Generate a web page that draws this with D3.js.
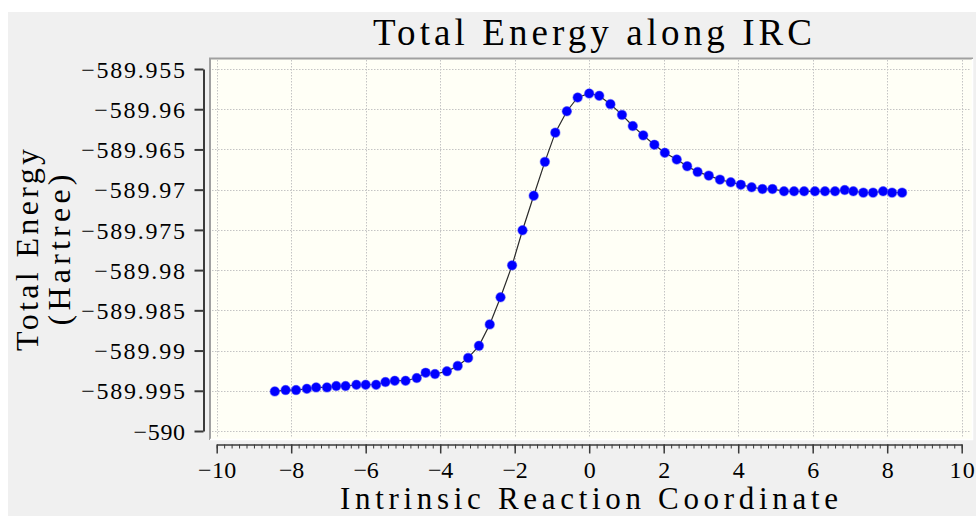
<!DOCTYPE html>
<html>
<head>
<meta charset="utf-8">
<script src="https://cdn.jsdelivr.net/npm/d3@7"></script>
<style>
  html, body { margin: 0; padding: 0; background: #ffffff; }
  svg { display: block; }
  text { font-family: "Liberation Serif", "DejaVu Serif", serif; fill: #000; }
</style>
</head>
<body>
<svg id="chart" width="976" height="516"></svg>
<script>
// IRC path: reaction coordinate and total energy (Hartree) at each point
const ircCoord = [
  -8.44, -8.15, -7.87, -7.58, -7.33, -7.04, -6.79, -6.54, -6.25, -6.00,
  -5.72, -5.47, -5.22, -4.93, -4.63, -4.39, -4.14, -3.82, -3.53, -3.25,
  -2.96, -2.67, -2.38, -2.07, -1.79, -1.49, -1.19, -0.91, -0.60, -0.31,
   0.00,  0.27,  0.57,  0.88,  1.17,  1.45,  1.75,  2.03,  2.35,  2.63,
   2.91,  3.21,  3.51,  3.80,  4.07,  4.36,  4.65,  4.92,  5.23,  5.50,
   5.77,  6.06,  6.33,  6.60,  6.86,  7.09,  7.36,  7.62,  7.89,  8.13,
   8.40
];
const totalEnergy = [
  -589.99508, -589.99491, -589.99491, -589.99475, -589.99458, -589.99458, -589.99441, -589.99441, -589.99425, -589.99425,
  -589.99425, -589.99391, -589.99375, -589.99375, -589.99341, -589.99275, -589.99291, -589.99258, -589.99191, -589.99091,
  -589.98941, -589.98675, -589.98338, -589.97941, -589.97504, -589.97075, -589.96654, -589.96291, -589.96025, -589.95854,
  -589.95804, -589.95833, -589.95937, -589.96070, -589.96208, -589.96325, -589.96441, -589.96541, -589.96625, -589.96708,
  -589.96779, -589.96825, -589.96875, -589.96908, -589.96938, -589.96970, -589.96991, -589.96991, -589.97020, -589.97020,
  -589.97020, -589.97020, -589.97020, -589.97020, -589.97004, -589.97020, -589.97037, -589.97037, -589.97020, -589.97037,
  -589.97037
];

// Axis ticks and their labels
const xTicks = [-10, -8, -6, -4, -2, 0, 2, 4, 6, 8, 10];
const xTickLabels = ["\u221210", "\u22128", "\u22126", "\u22124", "\u22122", "0", "2", "4", "6", "8", "10"];
const yTicks = [-589.955, -589.96, -589.965, -589.97, -589.975, -589.98, -589.985, -589.99, -589.995, -590];
const yTickLabels = ["\u2212589.955", "\u2212589.96", "\u2212589.965", "\u2212589.97", "\u2212589.975",
                     "\u2212589.98", "\u2212589.985", "\u2212589.99", "\u2212589.995", "\u2212590"];

const chartTitle = "Total Energy along IRC";
const xTitle = "Intrinsic Reaction Coordinate";
const yTitleLines = ["Total Energy", "(Hartree)"];

const points = ircCoord.map((c, i) => ({ x: c, y: totalEnergy[i] }));

const svg = d3.select("#chart");

// Outer panel
svg.append("rect").attr("x", 8).attr("y", 12).attr("width", 968).attr("height", 504).attr("fill", "#f0f0f0");

// Plot frame
const frame = { left: 210, top: 58, right: 973, bottom: 440 };
svg.append("rect")
  .attr("x", frame.left).attr("y", frame.top)
  .attr("width", frame.right - frame.left).attr("height", frame.bottom - frame.top)
  .attr("fill", "#fffff6");

const x = d3.scaleLinear().domain([-10, 10]).range([216.7, 961.7]);
const y = d3.scaleLinear().domain([-590, -589.955]).range([431, 69]);

// Dotted grid
const grid = svg.append("g").attr("stroke", "#c4c4c4").attr("stroke-width", 1).attr("stroke-dasharray", "1.5,1.5");
grid.selectAll("line.h").data(yTicks).join("line").attr("class", "h")
  .attr("x1", frame.left + 2).attr("x2", frame.right - 2)
  .attr("y1", d => Math.round(y(d)) + 0.5).attr("y2", d => Math.round(y(d)) + 0.5);
grid.selectAll("line.v").data(xTicks).join("line").attr("class", "v")
  .attr("y1", frame.top + 2).attr("y2", frame.bottom - 2)
  .attr("x1", d => Math.round(x(d)) + 0.5).attr("x2", d => Math.round(x(d)) + 0.5);

// Sunken border: dark top/left, light bottom/right
svg.append("line").attr("x1", frame.left - 1).attr("x2", frame.right).attr("y1", frame.top + 0.5).attr("y2", frame.top + 0.5)
  .attr("stroke", "#a0a0a0").attr("stroke-width", 2);
svg.append("line").attr("x1", frame.left).attr("x2", frame.left).attr("y1", frame.top).attr("y2", frame.bottom)
  .attr("stroke", "#a0a0a0").attr("stroke-width", 2);
svg.append("line").attr("x1", frame.left).attr("x2", frame.right).attr("y1", frame.bottom - 0.5).attr("y2", frame.bottom - 0.5)
  .attr("stroke", "#ffffff").attr("stroke-width", 1.5);
svg.append("line").attr("x1", frame.right - 0.5).attr("x2", frame.right - 0.5).attr("y1", frame.top + 1).attr("y2", frame.bottom)
  .attr("stroke", "#ffffff").attr("stroke-width", 1.5);

// Curve and markers
const line = d3.line().x(d => x(d.x)).y(d => y(d.y));
svg.append("path").datum(points).attr("d", line)
  .attr("fill", "none").attr("stroke", "#2a2a2a").attr("stroke-width", 1.2);
svg.append("g").selectAll("circle").data(points).join("circle")
  .attr("cx", d => x(d.x)).attr("cy", d => y(d.y)).attr("r", 4.7)
  .attr("fill", "#0000ff").attr("stroke", "rgba(60,60,255,0.45)").attr("stroke-width", 1.2);

const tickFontSize = 24;
const cell = 13.1;

// Y axis
const yAxis = svg.append("g").attr("transform", "translate(203.5,0)")
  .call(d3.axisLeft(y).tickValues(yTicks).tickSize(9).tickSizeOuter(0)
    .tickFormat((d, i) => yTickLabels[i]));
yAxis.select(".domain").attr("stroke", "#3a3a3a").attr("stroke-width", 2);
yAxis.selectAll(".tick line").attr("stroke", "#3a3a3a").attr("stroke-width", 2);
yAxis.selectAll(".tick text")
  .attr("x", -18.5).attr("dy", "0.34em")
  .attr("font-size", tickFontSize).attr("font-family", null)
  .attr("textLength", d => yTickLabels[yTicks.indexOf(d)].length * cell - 1)
  .attr("lengthAdjust", "spacing");

// X axis: minor ticks then major ticks with labels
const xAxisY = 444.5;
const xMinor = svg.append("g").attr("transform", `translate(0,${xAxisY})`)
  .call(d3.axisBottom(x).tickValues(x.ticks(100)).tickSize(4).tickSizeOuter(0).tickFormat(""));
xMinor.select(".domain").attr("stroke", "#3a3a3a").attr("stroke-width", 1.5);
xMinor.selectAll(".tick line").attr("stroke", "#3a3a3a").attr("stroke-width", 1);

const xAxis = svg.append("g").attr("transform", `translate(0,${xAxisY})`)
  .call(d3.axisBottom(x).tickValues(xTicks).tickSize(9).tickSizeOuter(0)
    .tickFormat((d, i) => xTickLabels[i]));
xAxis.select(".domain").remove();
xAxis.selectAll(".tick line").attr("stroke", "#3a3a3a").attr("stroke-width", 1.5);
xAxis.selectAll(".tick text")
  .attr("y", 33.5).attr("dy", 0)
  .attr("font-size", tickFontSize).attr("font-family", null)
  .attr("textLength", d => xTickLabels[xTicks.indexOf(d)].length * cell - 1)
  .attr("lengthAdjust", "spacing");

// Titles
svg.append("text").attr("x", 592.5).attr("y", 45)
  .attr("text-anchor", "middle").attr("font-size", 37)
  .attr("textLength", 439).attr("lengthAdjust", "spacing")
  .text(chartTitle);

svg.append("text").attr("x", 589).attr("y", 509)
  .attr("text-anchor", "middle").attr("font-size", 31)
  .attr("textLength", 498).attr("lengthAdjust", "spacing")
  .text(xTitle);

const yTitleBaselines = [37.5, 69.5];
const yTitleLengths = [202, 151];
yTitleLines.forEach((t, i) => {
  svg.append("text")
    .attr("transform", `translate(${yTitleBaselines[i]},250) rotate(-90)`)
    .attr("text-anchor", "middle").attr("font-size", 32)
    .attr("textLength", yTitleLengths[i]).attr("lengthAdjust", "spacing")
    .text(t);
});
</script>
</body>
</html>
